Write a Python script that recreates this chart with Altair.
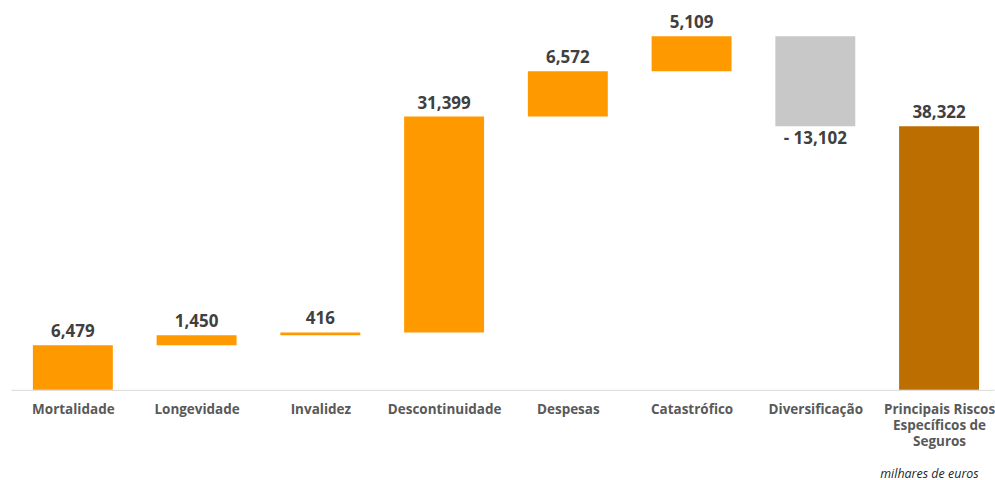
import altair as alt
import pandas as pd

categories = ["Mortalidade", "Longevidade", "Invalidez", "Descontinuidade",
              "Despesas", "Catastrófico", "Diversificação",
              "Principais Riscos Específicos de Seguros"]
values = [6479, 1450, 416, 31399, 6572, 5109, -13102, 38322]
kinds = ["risco", "risco", "risco", "risco", "risco", "risco", "diversificacao", "total"]

rows = []
cum = 0
for i, (c, v, k) in enumerate(zip(categories, values, kinds)):
    if k == "total":
        start, end = 0, v
    else:
        start, end = cum, cum + v
        cum = end
    label = f"{v:,}" if v >= 0 else f"- {abs(v):,}"
    rows.append({"idx": i, "cat": c, "lo": min(start, end),
                 "hi": max(start, end), "kind": k, "label": label, "neg": v < 0})
df = pd.DataFrame(rows)

names_js = "[" + ",".join(
    "['Principais Riscos','Específicos de','Seguros']" if c.startswith("Principais")
    else "'" + c + "'" for c in categories) + "]"
label_expr = f"{names_js}[datum.value]"

xscale = alt.Scale(domain=[-0.5, 7.444], nice=False, zero=False)
xaxis = alt.Axis(values=list(range(len(categories))), labelExpr=label_expr,
                 labelAngle=0, ticks=False, grid=False, domainColor="#d9d9d9",
                 labelColor="#595959", labelFont="Open Sans", labelFontWeight="bold",
                 labelFontSize=13.5, labelPadding=13, labelLineHeight=16,
                 labelLimit=200, labelFlush=False, labelOverlap=False)
yscale = alt.Scale(domain=[0, 55200], nice=False, zero=True)

base = alt.Chart(df)
bars = base.transform_calculate(
    x1="datum.idx - 0.323", x2="datum.idx + 0.323"
).mark_bar().encode(
    x=alt.X("x1:Q", scale=xscale, axis=xaxis, title=None),
    x2="x2:Q",
    y=alt.Y("lo:Q", scale=yscale, axis=None),
    y2="hi:Q",
    color=alt.Color("kind:N", legend=None,
                    scale=alt.Scale(domain=["risco", "diversificacao", "total"],
                                    range=["#FF9900", "#C8C8C8", "#BC6F00"])),
)
pos_labels = base.transform_filter("!datum.neg").mark_text(
    baseline="middle", dy=-13, font="Open Sans", fontWeight="bold",
    fontSize=17, color="#404040").encode(
    x=alt.X("idx:Q", scale=xscale),
    y=alt.Y("hi:Q", scale=yscale), text="label:N")
neg_labels = base.transform_filter("datum.neg").mark_text(
    baseline="middle", dy=13, font="Open Sans", fontWeight="bold",
    fontSize=17, color="#404040").encode(
    x=alt.X("idx:Q", scale=xscale),
    y=alt.Y("lo:Q", scale=yscale), text="label:N")

chart = alt.layer(bars, pos_labels, neg_labels).properties(
    width=984, height=380,
    padding={"left": 11, "top": 10, "right": 0, "bottom": 0},
    title=alt.TitleParams("milhares de euros", orient="bottom", anchor="end",
                          fontStyle="italic", fontWeight="normal", fontSize=12.5,
                          font="Open Sans", color="#262626", dx=-16, offset=20),
).configure_view(stroke=None)

chart.save("out.html", embed_options={"renderer": "svg", "actions": False})
